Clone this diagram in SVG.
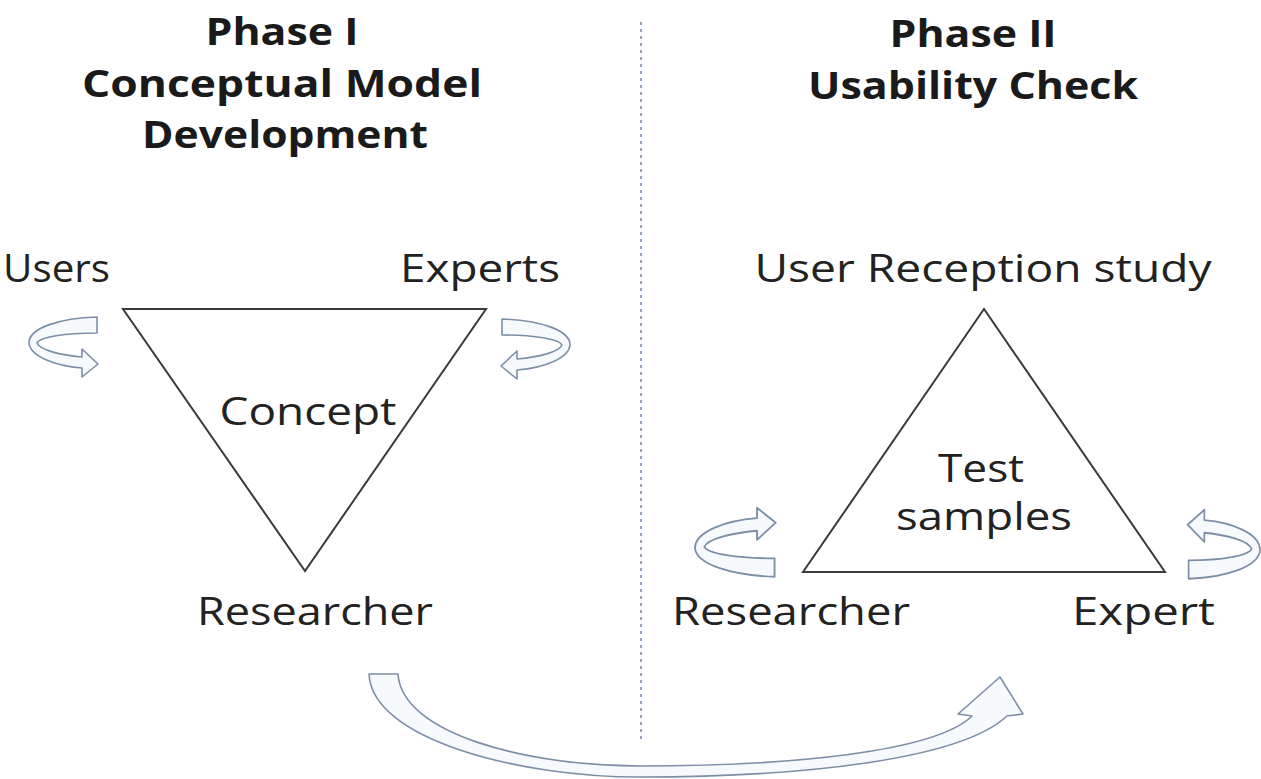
<svg xmlns="http://www.w3.org/2000/svg" width="1261" height="779" viewBox="0 0 1261 779">
<style>
.h{font-family:"Open Sans","Liberation Sans",sans-serif;font-weight:bold;font-size:38px;fill:#1a1a1a}
.t{font-family:"Open Sans","Liberation Sans",sans-serif;font-size:38px;fill:#222}
.tri{fill:none;stroke:#3a3a3a;stroke-width:2}
.ca{fill:#f7fafd;stroke:#7d8fa6;stroke-width:1.6;stroke-linejoin:round}
</style>
<defs>
<path id="curl" d="M68,-25 C31,-24 1,-14 0,0 C0,14 26,24 53,26 L53,35 L69,22 L53,7 L53,15 C31,13 11,8 8,1 C11,-5 36,-9 68,-9 Z"/>
</defs>
<rect width="1261" height="779" fill="#ffffff"/>
<line x1="641" y1="22" x2="641" y2="742" stroke="#8ea4c2" stroke-width="2" stroke-dasharray="3,4"/>
<g id="phase1-title">
<text class="h" x="282" y="45" text-anchor="middle" textLength="153" lengthAdjust="spacingAndGlyphs">Phase I</text>
<text class="h" x="282" y="97" text-anchor="middle" textLength="400" lengthAdjust="spacingAndGlyphs">Conceptual Model</text>
<text class="h" x="285" y="148" text-anchor="middle" textLength="286" lengthAdjust="spacingAndGlyphs">Development</text>
</g>
<g id="phase2-title">
<text class="h" x="973" y="47" text-anchor="middle" textLength="167" lengthAdjust="spacingAndGlyphs">Phase II</text>
<text class="h" x="973" y="99" text-anchor="middle" textLength="330" lengthAdjust="spacingAndGlyphs">Usability Check</text>
</g>
<g id="concept-triangle">
<polygon class="tri" points="123,309 486,309 305,571"/>
<text class="t" x="308" y="425" text-anchor="middle" textLength="177" lengthAdjust="spacingAndGlyphs">Concept</text>
</g>
<g id="users"><text class="t" x="3" y="282" textLength="107" lengthAdjust="spacingAndGlyphs">Users</text></g>
<g id="experts"><text class="t" x="400" y="282" textLength="160" lengthAdjust="spacingAndGlyphs">Experts</text></g>
<g id="researcher1"><text class="t" x="197" y="625" textLength="236" lengthAdjust="spacingAndGlyphs">Researcher</text></g>
<g id="test-triangle">
<polygon class="tri" points="984,309 803,572 1165,572"/>
<text class="t" x="981" y="482" text-anchor="middle" textLength="86" lengthAdjust="spacingAndGlyphs">Test</text>
<text class="t" x="984" y="530" text-anchor="middle" textLength="176" lengthAdjust="spacingAndGlyphs">samples</text>
</g>
<g id="user-reception"><text class="t" x="983" y="282" text-anchor="middle" textLength="457" lengthAdjust="spacingAndGlyphs">User Reception study</text></g>
<g id="researcher2"><text class="t" x="672" y="625" textLength="238" lengthAdjust="spacingAndGlyphs">Researcher</text></g>
<g id="expert"><text class="t" x="1072" y="625" textLength="143" lengthAdjust="spacingAndGlyphs">Expert</text></g>
<g id="connectors">
<use href="#curl" class="ca" transform="translate(29,342)"/>
<use href="#curl" class="ca" transform="translate(570,344) scale(-1,1)"/>
<use href="#curl" class="ca" transform="translate(695,548) scale(1.17,-1.15)"/>
<use href="#curl" class="ca" transform="translate(1260,550) scale(-1.05,-1.15)"/>
<path class="ca" fill="#ffffff" d="M369,674 C372,740 520,777 640,777 C800,777 960,760 1007,716 L1023,714 L1000,677 L958,714 L972,716 C935,752 790,766 640,766 C530,766 402,735 398,674 Z"/>
</g>
</svg>
